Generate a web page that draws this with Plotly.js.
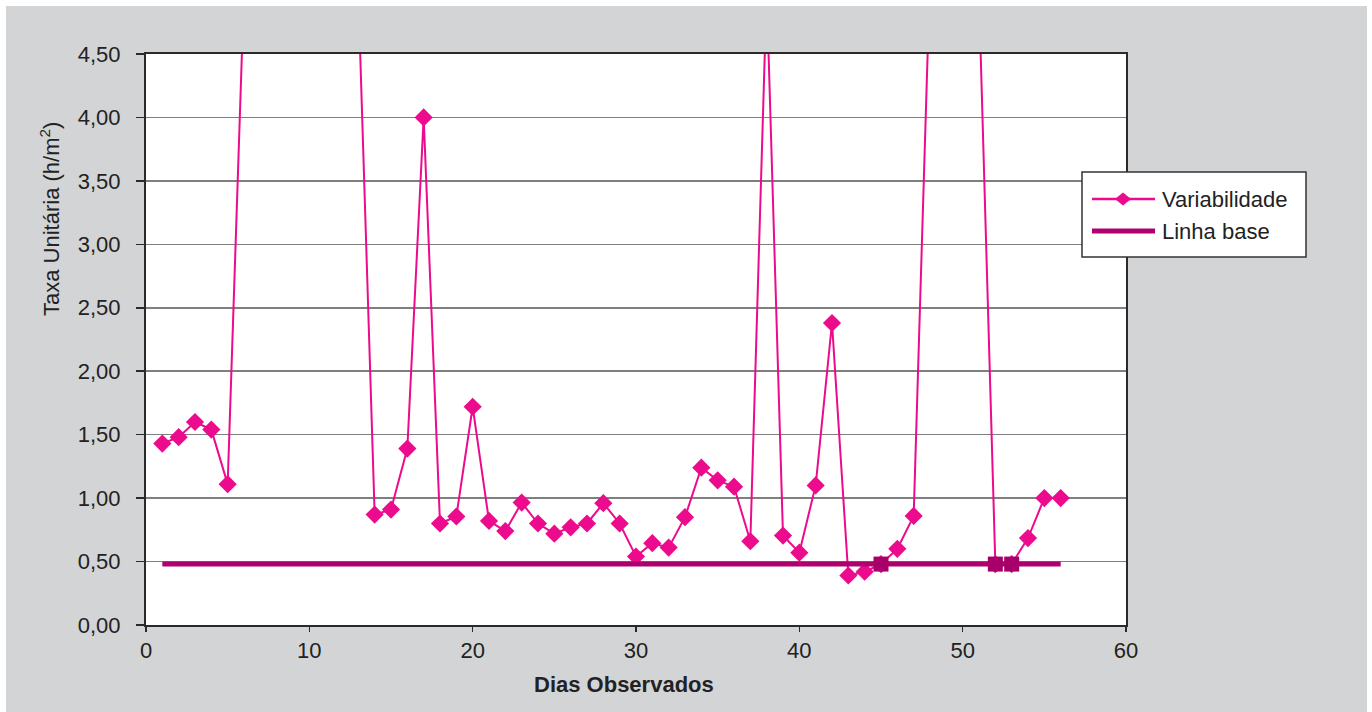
<!DOCTYPE html>
<html>
<head>
<meta charset="utf-8">
<script src="https://cdn.plot.ly/plotly-3.0.1.min.js"></script>
<style>html,body{margin:0;padding:0;background:#fff;}#chart{width:1372px;height:712px;}</style>
</head>
<body>
<div id="chart"></div>
<script>
// Data
const days = [1,2,3,4,5,6,7,8,9,10,11,12,13,14,15,16,17,18,19,20,21,22,23,24,25,26,27,28,29,30,31,32,33,34,35,36,37,38,39,40,41,42,43,44,45,46,47,48,49,50,51,52,53,54,55,56];
const variabilidade = [1.43,1.48,1.60,1.54,1.11,5.0,6.2,5.8,6.5,5.4,6.0,5.6,4.97,0.87,0.91,1.39,4.00,0.80,0.855,1.72,0.82,0.74,0.965,0.80,0.72,0.77,0.80,0.96,0.80,0.54,0.645,0.61,0.85,1.24,1.14,1.09,0.66,5.0,0.705,0.57,1.10,2.38,0.39,0.42,0.48,0.60,0.86,5.12,5.8,6.1,4.96,0.48,0.48,0.685,1.00,1.00];
const linhaBaseValue = 0.48;
const linhaBase = days.map(() => linhaBaseValue);
const baseMarkDays = [45, 52, 53];
const baseMarkValues = [0.48, 0.48, 0.48];
const yTicks = [0,0.5,1,1.5,2,2.5,3,3.5,4,4.5];
const xTicks = [0,10,20,30,40,50,60];
const seriesNames = ["Variabilidade", "Linha base"];

const PINK = "#ec0b8d";
const DARK = "#b0006e";
const FONT = "Liberation Sans, Arial, sans-serif";
const FS = 22;
const TXT = "#222";

// pixel -> paper helpers (plot area 146..1126 x 54..625)
const L = 146, R = 1126, T = 54, B = 625;
const px = v => (v - L) / (R - L);
const py = v => (B - v) / (B - T);

const traces = [
  {
    x: days, y: variabilidade, name: seriesNames[0], type: "scatter", mode: "lines+markers",
    line: {color: PINK, width: 2},
    marker: {symbol: "diamond", size: 14, color: PINK},
    showlegend: false, hoverinfo: "x+y"
  },
  {
    x: days, y: linhaBase, name: seriesNames[1], type: "scatter", mode: "lines",
    line: {color: DARK, width: 5},
    showlegend: false
  },
  {
    x: baseMarkDays, y: baseMarkValues, type: "scatter", mode: "markers",
    marker: {symbol: "square", size: 15, color: "#a8006a"},
    showlegend: false, cliponaxis: false
  }
];

const layout = {
  width: 1372, height: 712, autosize: false,
  margin: {l: L, r: 1372 - R, t: T, b: 712 - B, pad: 0},
  paper_bgcolor: "#ffffff",
  plot_bgcolor: "rgba(0,0,0,0)",
  separators: ",.",
  font: {family: FONT, size: FS, color: TXT},
  showlegend: false,
  xaxis: {
    range: [0, 60], tickvals: xTicks,
    showgrid: false, zeroline: false,
    showline: true, mirror: true, linecolor: "#2a2a2a", linewidth: 2,
    ticks: "outside", ticklen: 5, tickwidth: 1.5, tickcolor: "#2a2a2a",
    ticklabelstandoff: 0,
    tickfont: {family: FONT, size: FS, color: TXT}
  },
  yaxis: {
    range: [0, 4.5], tickvals: yTicks, tickformat: ".2f",
    showgrid: true, gridcolor: "#7f7f7f", gridwidth: 1.5,
    zeroline: false,
    showline: true, mirror: true, linecolor: "#2a2a2a", linewidth: 2,
    ticks: "outside", ticklen: 8, tickwidth: 1.5, tickcolor: "#2a2a2a",
    ticklabelstandoff: 11,
    tickfont: {family: FONT, size: FS, color: TXT}
  },
  shapes: [
    {type: "rect", xref: "paper", yref: "paper", x0: px(6), x1: px(1367), y0: py(712), y1: py(6),
     fillcolor: "#d3d4d6", line: {width: 0}, layer: "below"},
    {type: "rect", xref: "paper", yref: "paper", x0: 0, x1: 1, y0: 0, y1: 1,
     fillcolor: "#ffffff", line: {width: 0}, layer: "below"},
    // legend box
    {type: "rect", xref: "paper", yref: "paper", x0: px(1082), x1: px(1306), y0: py(257), y1: py(172),
     fillcolor: "#ffffff", line: {color: "#333", width: 1.5}, layer: "above"},
    {type: "line", xref: "paper", yref: "paper", x0: px(1092), x1: px(1155), y0: py(199), y1: py(199),
     line: {color: PINK, width: 2.5}, layer: "above"},
    {type: "path", xref: "paper", yref: "paper", xsizemode: "pixel", ysizemode: "pixel",
     xanchor: px(1123), yanchor: py(199), path: "M-8,0 L0,6.5 L8,0 L0,-6.5 Z",
     fillcolor: PINK, line: {width: 0}, layer: "above"},
    {type: "line", xref: "paper", yref: "paper", x0: px(1092), x1: px(1155), y0: py(231), y1: py(231),
     line: {color: DARK, width: 5}, layer: "above"}
  ],
  annotations: [
    {xref: "paper", yref: "paper", x: px(1160), y: py(199), xanchor: "left", yanchor: "middle",
     text: seriesNames[0], showarrow: false, font: {family: FONT, size: FS, color: TXT}},
    {xref: "paper", yref: "paper", x: px(1160), y: py(232), xanchor: "left", yanchor: "middle",
     text: seriesNames[1], showarrow: false, font: {family: FONT, size: FS, color: TXT}},
    {xref: "paper", yref: "paper", x: px(50), y: py(219), xanchor: "center", yanchor: "middle",
     textangle: -90, text: "Taxa Unitária (h/m<sup>2</sup>)", showarrow: false,
     font: {family: FONT, size: FS, color: TXT}},
    {xref: "paper", yref: "paper", x: px(624), y: py(684), xanchor: "center", yanchor: "middle",
     text: "<b>Dias Observados</b>", showarrow: false,
     font: {family: FONT, size: FS, color: TXT}}
  ]
};

Plotly.newPlot("chart", traces, layout, {displayModeBar: false, staticPlot: true});
</script>
</body>
</html>
